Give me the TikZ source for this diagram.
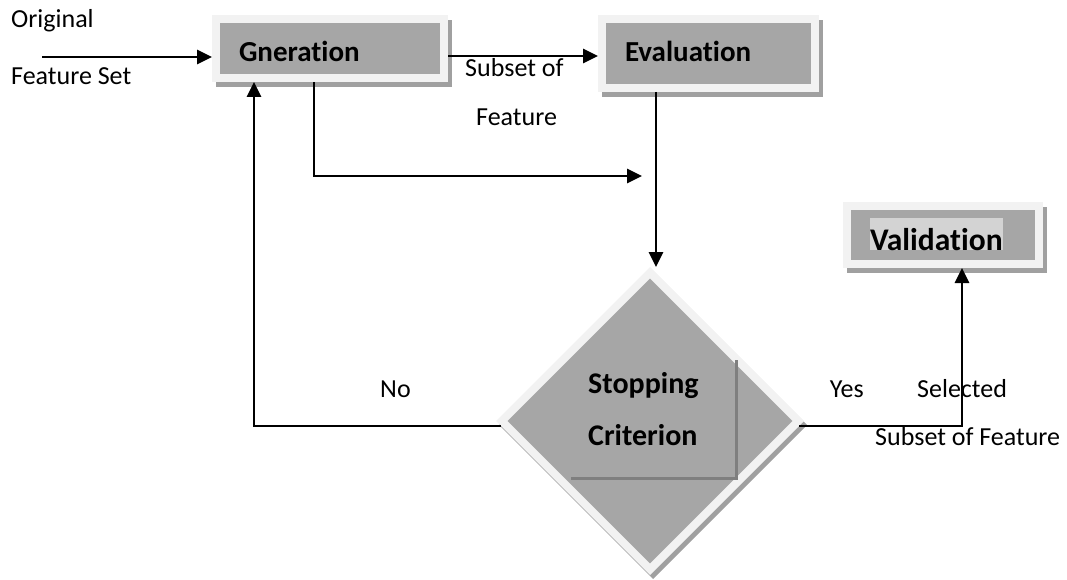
\documentclass[tikz,border=0pt]{standalone}
\usepackage{fontspec}
\setmainfont[Ligatures=NoCommon]{Carlito}
\usetikzlibrary{arrows.meta,shapes.geometric}
\definecolor{boxfill}{HTML}{A6A6A6}
\definecolor{boxrim}{HTML}{F2F2F2}
\definecolor{boxshade}{HTML}{A0A0A0}
\definecolor{critshade}{HTML}{7F7F7F}
\definecolor{hilite}{HTML}{D3D3D3}
\begin{document}
\begin{tikzpicture}[x=1pt,y=-1pt,
  box/.style={rectangle, draw=boxrim, fill=boxfill, line width=8pt,
    inner xsep=23pt, inner ysep=0pt, align=left, text depth=0pt,
    font=\fontsize{29}{35}\selectfont\bfseries,
    preaction={draw=boxshade, fill=boxshade, transform canvas={shift={(4pt,-5pt)}}}},
  diam/.style={diamond, aspect=1, minimum width=300pt, minimum height=300pt,
    inner sep=0pt, draw=boxrim, fill=boxfill, line width=8pt,
    preaction={draw=boxshade, fill=boxshade, transform canvas={shift={(3pt,-4pt)}}}},
  lbl/.style={inner sep=0pt, font=\fontsize{26}{31}\selectfont},
  blbl/.style={inner sep=0pt, font=\fontsize{30}{36}\selectfont\bfseries},
  arr/.style={draw=black, line width=2.7pt, -{Triangle[length=15pt,width=14pt]}},
  critline/.style={draw=critshade, line width=3pt}
]
\useasboundingbox (0,0) rectangle (1067,580);

% boxes
\node[box, text width=182pt, text height=27pt, minimum height=59pt] (gen) at (330,48.5) {Gneration};
\node[box, text width=167pt, text height=17pt, minimum height=69pt] (eval) at (708.5,53.5) {Evaluation};
\node[box, text width=146pt, text height=30pt, minimum height=58pt, font=\fontsize{31.5}{37}\selectfont\bfseries] (val) at (943,235)
  {\setlength{\fboxsep}{0pt}\colorbox{hilite}{\rule{0pt}{32pt}Validation}};

% decision
\node[diam] (stop) at (650,421) {};
\draw[critline] (736,360) |- (571,478);
\node[blbl, anchor=base west] (stopA) at (588,393) {Stopping};
\node[blbl, anchor=base west] (stopB) at (588,445) {Criterion};

% labels
\node[lbl, anchor=base west] (orig1) at (11,28) {Original};
\node[lbl, anchor=base west] (orig2) at (11,85) {Feature Set};
\node[lbl, anchor=base west] (sub1) at (465,77) {Subset of};
\node[lbl, anchor=base west] (sub2) at (476,126) {Feature};
\node[lbl, anchor=base west] (no) at (380,397) {No};
\node[lbl, anchor=base east] (yes) at (864,397) {Yes};
\node[lbl, anchor=base west] (sel1) at (917,397) {Selected};
\node[lbl, anchor=base west] (sel2) at (875,445) {Subset of Feature};

% connectors
\coordinate (inS) at (42,57);
\coordinate (jn) at (642,176);
\draw[arr] (inS) -- (inS -| gen.west);
\draw[arr] (gen.east |- 0,56) -- (eval.west |- 0,56);
\draw[arr] (gen.south -| 314,0) |- (jn);
\draw[arr] (eval.south -| 656,0) -- (stop.north -| 656,0);
\draw[arr] ([shift={(5pt,-5pt)}]stop.west) -| (gen.south -| 254,0);
\draw[arr] ([shift={(-5pt,-5pt)}]stop.east) -| (val.south -| 962,0);
\end{tikzpicture}
\end{document}
